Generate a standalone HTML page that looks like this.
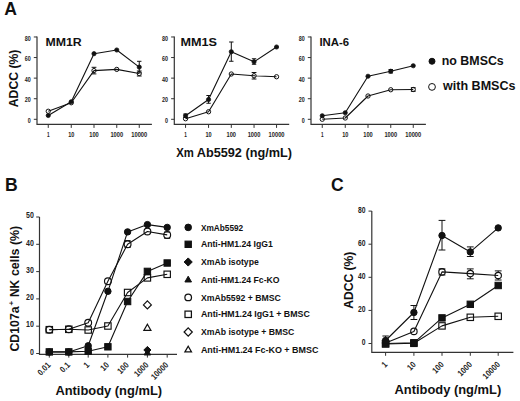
<!DOCTYPE html>
<html><head><meta charset="utf-8"><title>Figure</title>
<style>
html,body{margin:0;padding:0;background:#fff;}
body{width:520px;height:401px;overflow:hidden;}
svg{display:block;font-family:"Liberation Sans",sans-serif;}
</style></head><body>
<svg width="520" height="401" viewBox="0 0 520 401">
<rect width="520" height="401" fill="#fff"/>
<text x="4.2" y="15" font-size="17.6" font-weight="bold" text-anchor="start" fill="#111">A</text>
<path d="M37,36.6 V124.4 H151.9" fill="none" stroke="#333" stroke-width="1.2"/>
<line x1="33.8" y1="119.3" x2="37" y2="119.3" stroke="#333" stroke-width="1"/>
<text x="30.7" y="123" font-size="7.7" font-weight="bold" text-anchor="end" fill="#222" textLength="3" lengthAdjust="spacingAndGlyphs">0</text>
<line x1="33.8" y1="98.72" x2="37" y2="98.72" stroke="#333" stroke-width="1"/>
<text x="30.7" y="102.42" font-size="7.7" font-weight="bold" text-anchor="end" fill="#222" textLength="6" lengthAdjust="spacingAndGlyphs">20</text>
<line x1="33.8" y1="78.14" x2="37" y2="78.14" stroke="#333" stroke-width="1"/>
<text x="30.7" y="81.84" font-size="7.7" font-weight="bold" text-anchor="end" fill="#222" textLength="6" lengthAdjust="spacingAndGlyphs">40</text>
<line x1="33.8" y1="57.56" x2="37" y2="57.56" stroke="#333" stroke-width="1"/>
<text x="30.7" y="61.26" font-size="7.7" font-weight="bold" text-anchor="end" fill="#222" textLength="6" lengthAdjust="spacingAndGlyphs">60</text>
<line x1="33.8" y1="36.98" x2="37" y2="36.98" stroke="#333" stroke-width="1"/>
<text x="30.7" y="40.68" font-size="7.7" font-weight="bold" text-anchor="end" fill="#222" textLength="6" lengthAdjust="spacingAndGlyphs">80</text>
<line x1="48.25" y1="124.4" x2="48.25" y2="127.9" stroke="#333" stroke-width="1"/>
<text x="48.25" y="137.3" font-size="7.4" font-weight="bold" text-anchor="middle" fill="#222" textLength="2.6" lengthAdjust="spacingAndGlyphs">1</text>
<line x1="71.25" y1="124.4" x2="71.25" y2="127.9" stroke="#333" stroke-width="1"/>
<text x="71.25" y="137.3" font-size="7.4" font-weight="bold" text-anchor="middle" fill="#222" textLength="6.2" lengthAdjust="spacingAndGlyphs">10</text>
<line x1="94" y1="124.4" x2="94" y2="127.9" stroke="#333" stroke-width="1"/>
<text x="94" y="137.3" font-size="7.4" font-weight="bold" text-anchor="middle" fill="#222" textLength="9.5" lengthAdjust="spacingAndGlyphs">100</text>
<line x1="116.75" y1="124.4" x2="116.75" y2="127.9" stroke="#333" stroke-width="1"/>
<text x="116.75" y="137.3" font-size="7.4" font-weight="bold" text-anchor="middle" fill="#222" textLength="12.7" lengthAdjust="spacingAndGlyphs">1000</text>
<line x1="139.25" y1="124.4" x2="139.25" y2="127.9" stroke="#333" stroke-width="1"/>
<text x="139.25" y="137.3" font-size="7.4" font-weight="bold" text-anchor="middle" fill="#222" textLength="16" lengthAdjust="spacingAndGlyphs">10000</text>
<text x="45.4" y="45.6" font-size="11.6" font-weight="bold" text-anchor="start" fill="#111" textLength="36.3" lengthAdjust="spacingAndGlyphs">MM1R</text>
<polyline points="48.25,111.25 71.25,102.75 94,70.6 116.75,69.4 139.25,73.5" fill="none" stroke="#111" stroke-width="1.1" stroke-linejoin="round"/>
<polyline points="48.25,115.5 71.25,101.75 94,53.7 116.75,50 139.25,67.1" fill="none" stroke="#111" stroke-width="1.1" stroke-linejoin="round"/>
<line x1="139.25" y1="61.3" x2="139.25" y2="72.9" stroke="#111" stroke-width="1"/>
<line x1="137.05" y1="61.3" x2="141.45" y2="61.3" stroke="#111" stroke-width="1"/>
<line x1="137.05" y1="72.9" x2="141.45" y2="72.9" stroke="#111" stroke-width="1"/>
<line x1="94" y1="67.3" x2="94" y2="68.5" stroke="#111" stroke-width="1"/>
<line x1="94" y1="72.7" x2="94" y2="73.9" stroke="#111" stroke-width="1"/>
<line x1="91.6" y1="67.3" x2="96.4" y2="67.3" stroke="#111" stroke-width="1"/>
<line x1="91.6" y1="73.9" x2="96.4" y2="73.9" stroke="#111" stroke-width="1"/>
<line x1="139.25" y1="71" x2="139.25" y2="71.4" stroke="#111" stroke-width="1"/>
<line x1="139.25" y1="75.6" x2="139.25" y2="76" stroke="#111" stroke-width="1"/>
<line x1="136.85" y1="71" x2="141.65" y2="71" stroke="#111" stroke-width="1"/>
<line x1="136.85" y1="76" x2="141.65" y2="76" stroke="#111" stroke-width="1"/>
<circle cx="48.25" cy="111.25" r="2.15" fill="none" stroke="#111" stroke-width="1"/>
<circle cx="71.25" cy="102.75" r="2.15" fill="none" stroke="#111" stroke-width="1"/>
<circle cx="94" cy="70.6" r="2.15" fill="none" stroke="#111" stroke-width="1"/>
<circle cx="116.75" cy="69.4" r="2.15" fill="none" stroke="#111" stroke-width="1"/>
<circle cx="139.25" cy="73.5" r="2.15" fill="none" stroke="#111" stroke-width="1"/>
<circle cx="48.25" cy="115.5" r="2.1" fill="#111" stroke="#111" stroke-width="0.8"/>
<circle cx="71.25" cy="101.75" r="2.1" fill="#111" stroke="#111" stroke-width="0.8"/>
<circle cx="94" cy="53.7" r="2.1" fill="#111" stroke="#111" stroke-width="0.8"/>
<circle cx="116.75" cy="50" r="2.1" fill="#111" stroke="#111" stroke-width="0.8"/>
<circle cx="139.25" cy="67.1" r="2.1" fill="#111" stroke="#111" stroke-width="0.8"/>
<path d="M174.3,36.6 V124.4 H289.2" fill="none" stroke="#333" stroke-width="1.2"/>
<line x1="171.1" y1="119.3" x2="174.3" y2="119.3" stroke="#333" stroke-width="1"/>
<text x="168" y="123" font-size="7.7" font-weight="bold" text-anchor="end" fill="#222" textLength="3" lengthAdjust="spacingAndGlyphs">0</text>
<line x1="171.1" y1="98.72" x2="174.3" y2="98.72" stroke="#333" stroke-width="1"/>
<text x="168" y="102.42" font-size="7.7" font-weight="bold" text-anchor="end" fill="#222" textLength="6" lengthAdjust="spacingAndGlyphs">20</text>
<line x1="171.1" y1="78.14" x2="174.3" y2="78.14" stroke="#333" stroke-width="1"/>
<text x="168" y="81.84" font-size="7.7" font-weight="bold" text-anchor="end" fill="#222" textLength="6" lengthAdjust="spacingAndGlyphs">40</text>
<line x1="171.1" y1="57.56" x2="174.3" y2="57.56" stroke="#333" stroke-width="1"/>
<text x="168" y="61.26" font-size="7.7" font-weight="bold" text-anchor="end" fill="#222" textLength="6" lengthAdjust="spacingAndGlyphs">60</text>
<line x1="171.1" y1="36.98" x2="174.3" y2="36.98" stroke="#333" stroke-width="1"/>
<text x="168" y="40.68" font-size="7.7" font-weight="bold" text-anchor="end" fill="#222" textLength="6" lengthAdjust="spacingAndGlyphs">80</text>
<line x1="185.55" y1="124.4" x2="185.55" y2="127.9" stroke="#333" stroke-width="1"/>
<text x="185.55" y="137.3" font-size="7.4" font-weight="bold" text-anchor="middle" fill="#222" textLength="2.6" lengthAdjust="spacingAndGlyphs">1</text>
<line x1="208.55" y1="124.4" x2="208.55" y2="127.9" stroke="#333" stroke-width="1"/>
<text x="208.55" y="137.3" font-size="7.4" font-weight="bold" text-anchor="middle" fill="#222" textLength="6.2" lengthAdjust="spacingAndGlyphs">10</text>
<line x1="231.3" y1="124.4" x2="231.3" y2="127.9" stroke="#333" stroke-width="1"/>
<text x="231.3" y="137.3" font-size="7.4" font-weight="bold" text-anchor="middle" fill="#222" textLength="9.5" lengthAdjust="spacingAndGlyphs">100</text>
<line x1="254.05" y1="124.4" x2="254.05" y2="127.9" stroke="#333" stroke-width="1"/>
<text x="254.05" y="137.3" font-size="7.4" font-weight="bold" text-anchor="middle" fill="#222" textLength="12.7" lengthAdjust="spacingAndGlyphs">1000</text>
<line x1="276.55" y1="124.4" x2="276.55" y2="127.9" stroke="#333" stroke-width="1"/>
<text x="276.55" y="137.3" font-size="7.4" font-weight="bold" text-anchor="middle" fill="#222" textLength="16" lengthAdjust="spacingAndGlyphs">10000</text>
<text x="180.5" y="45.6" font-size="11.6" font-weight="bold" text-anchor="start" fill="#111" textLength="36.5" lengthAdjust="spacingAndGlyphs">MM1S</text>
<polyline points="185.55,118.75 208.55,111.75 231.3,74 254.05,75.75 276.55,76.75" fill="none" stroke="#111" stroke-width="1.1" stroke-linejoin="round"/>
<polyline points="185.55,115.75 208.55,99.5 231.3,51.75 254.05,61.75 276.55,47" fill="none" stroke="#111" stroke-width="1.1" stroke-linejoin="round"/>
<line x1="185.55" y1="114" x2="185.55" y2="117.5" stroke="#111" stroke-width="1"/>
<line x1="183.35" y1="114" x2="187.75" y2="114" stroke="#111" stroke-width="1"/>
<line x1="183.35" y1="117.5" x2="187.75" y2="117.5" stroke="#111" stroke-width="1"/>
<line x1="208.55" y1="95.5" x2="208.55" y2="103.25" stroke="#111" stroke-width="1"/>
<line x1="206.35" y1="95.5" x2="210.75" y2="95.5" stroke="#111" stroke-width="1"/>
<line x1="206.35" y1="103.25" x2="210.75" y2="103.25" stroke="#111" stroke-width="1"/>
<line x1="231.3" y1="42" x2="231.3" y2="61.25" stroke="#111" stroke-width="1"/>
<line x1="229.1" y1="42" x2="233.5" y2="42" stroke="#111" stroke-width="1"/>
<line x1="229.1" y1="61.25" x2="233.5" y2="61.25" stroke="#111" stroke-width="1"/>
<line x1="254.05" y1="58.75" x2="254.05" y2="64.25" stroke="#111" stroke-width="1"/>
<line x1="251.85" y1="58.75" x2="256.25" y2="58.75" stroke="#111" stroke-width="1"/>
<line x1="251.85" y1="64.25" x2="256.25" y2="64.25" stroke="#111" stroke-width="1"/>
<line x1="254.05" y1="72.5" x2="254.05" y2="73.65" stroke="#111" stroke-width="1"/>
<line x1="254.05" y1="77.85" x2="254.05" y2="79" stroke="#111" stroke-width="1"/>
<line x1="251.65" y1="72.5" x2="256.45" y2="72.5" stroke="#111" stroke-width="1"/>
<line x1="251.65" y1="79" x2="256.45" y2="79" stroke="#111" stroke-width="1"/>
<circle cx="185.55" cy="118.75" r="2.15" fill="none" stroke="#111" stroke-width="1"/>
<circle cx="208.55" cy="111.75" r="2.15" fill="none" stroke="#111" stroke-width="1"/>
<circle cx="231.3" cy="74" r="2.15" fill="none" stroke="#111" stroke-width="1"/>
<circle cx="254.05" cy="75.75" r="2.15" fill="none" stroke="#111" stroke-width="1"/>
<circle cx="276.55" cy="76.75" r="2.15" fill="none" stroke="#111" stroke-width="1"/>
<circle cx="185.55" cy="115.75" r="2.1" fill="#111" stroke="#111" stroke-width="0.8"/>
<circle cx="208.55" cy="99.5" r="2.1" fill="#111" stroke="#111" stroke-width="0.8"/>
<circle cx="231.3" cy="51.75" r="2.1" fill="#111" stroke="#111" stroke-width="0.8"/>
<circle cx="254.05" cy="61.75" r="2.1" fill="#111" stroke="#111" stroke-width="0.8"/>
<circle cx="276.55" cy="47" r="2.1" fill="#111" stroke="#111" stroke-width="0.8"/>
<path d="M311,36.6 V124.4 H425.9" fill="none" stroke="#333" stroke-width="1.2"/>
<line x1="307.8" y1="119.3" x2="311" y2="119.3" stroke="#333" stroke-width="1"/>
<text x="304.7" y="123" font-size="7.7" font-weight="bold" text-anchor="end" fill="#222" textLength="3" lengthAdjust="spacingAndGlyphs">0</text>
<line x1="307.8" y1="98.72" x2="311" y2="98.72" stroke="#333" stroke-width="1"/>
<text x="304.7" y="102.42" font-size="7.7" font-weight="bold" text-anchor="end" fill="#222" textLength="6" lengthAdjust="spacingAndGlyphs">20</text>
<line x1="307.8" y1="78.14" x2="311" y2="78.14" stroke="#333" stroke-width="1"/>
<text x="304.7" y="81.84" font-size="7.7" font-weight="bold" text-anchor="end" fill="#222" textLength="6" lengthAdjust="spacingAndGlyphs">40</text>
<line x1="307.8" y1="57.56" x2="311" y2="57.56" stroke="#333" stroke-width="1"/>
<text x="304.7" y="61.26" font-size="7.7" font-weight="bold" text-anchor="end" fill="#222" textLength="6" lengthAdjust="spacingAndGlyphs">60</text>
<line x1="307.8" y1="36.98" x2="311" y2="36.98" stroke="#333" stroke-width="1"/>
<text x="304.7" y="40.68" font-size="7.7" font-weight="bold" text-anchor="end" fill="#222" textLength="6" lengthAdjust="spacingAndGlyphs">80</text>
<line x1="322.25" y1="124.4" x2="322.25" y2="127.9" stroke="#333" stroke-width="1"/>
<text x="322.25" y="137.3" font-size="7.4" font-weight="bold" text-anchor="middle" fill="#222" textLength="2.6" lengthAdjust="spacingAndGlyphs">1</text>
<line x1="345.25" y1="124.4" x2="345.25" y2="127.9" stroke="#333" stroke-width="1"/>
<text x="345.25" y="137.3" font-size="7.4" font-weight="bold" text-anchor="middle" fill="#222" textLength="6.2" lengthAdjust="spacingAndGlyphs">10</text>
<line x1="368" y1="124.4" x2="368" y2="127.9" stroke="#333" stroke-width="1"/>
<text x="368" y="137.3" font-size="7.4" font-weight="bold" text-anchor="middle" fill="#222" textLength="9.5" lengthAdjust="spacingAndGlyphs">100</text>
<line x1="390.75" y1="124.4" x2="390.75" y2="127.9" stroke="#333" stroke-width="1"/>
<text x="390.75" y="137.3" font-size="7.4" font-weight="bold" text-anchor="middle" fill="#222" textLength="12.7" lengthAdjust="spacingAndGlyphs">1000</text>
<line x1="413.25" y1="124.4" x2="413.25" y2="127.9" stroke="#333" stroke-width="1"/>
<text x="413.25" y="137.3" font-size="7.4" font-weight="bold" text-anchor="middle" fill="#222" textLength="16" lengthAdjust="spacingAndGlyphs">10000</text>
<text x="319.4" y="45.6" font-size="11.6" font-weight="bold" text-anchor="start" fill="#111" textLength="29.8" lengthAdjust="spacingAndGlyphs">INA-6</text>
<polyline points="322.25,119.25 345.25,118 368,96 390.75,89.75 413.25,89.5" fill="none" stroke="#111" stroke-width="1.1" stroke-linejoin="round"/>
<polyline points="322.25,115.75 345.25,112.75 368,76.25 390.75,71.25 413.25,65.75" fill="none" stroke="#111" stroke-width="1.1" stroke-linejoin="round"/>
<line x1="390.75" y1="69.5" x2="390.75" y2="73" stroke="#111" stroke-width="1"/>
<line x1="388.55" y1="69.5" x2="392.95" y2="69.5" stroke="#111" stroke-width="1"/>
<line x1="388.55" y1="73" x2="392.95" y2="73" stroke="#111" stroke-width="1"/>
<line x1="410.85" y1="87.7" x2="415.65" y2="87.7" stroke="#111" stroke-width="1"/>
<line x1="410.85" y1="91.3" x2="415.65" y2="91.3" stroke="#111" stroke-width="1"/>
<circle cx="322.25" cy="119.25" r="2.15" fill="none" stroke="#111" stroke-width="1"/>
<circle cx="345.25" cy="118" r="2.15" fill="none" stroke="#111" stroke-width="1"/>
<circle cx="368" cy="96" r="2.15" fill="none" stroke="#111" stroke-width="1"/>
<circle cx="390.75" cy="89.75" r="2.15" fill="none" stroke="#111" stroke-width="1"/>
<circle cx="413.25" cy="89.5" r="2.15" fill="none" stroke="#111" stroke-width="1"/>
<circle cx="322.25" cy="115.75" r="2.1" fill="#111" stroke="#111" stroke-width="0.8"/>
<circle cx="345.25" cy="112.75" r="2.1" fill="#111" stroke="#111" stroke-width="0.8"/>
<circle cx="368" cy="76.25" r="2.1" fill="#111" stroke="#111" stroke-width="0.8"/>
<circle cx="390.75" cy="71.25" r="2.1" fill="#111" stroke="#111" stroke-width="0.8"/>
<circle cx="413.25" cy="65.75" r="2.1" fill="#111" stroke="#111" stroke-width="0.8"/>
<text x="17.9" y="107.2" font-size="12.3" font-weight="bold" text-anchor="start" fill="#111" textLength="57.6" lengthAdjust="spacingAndGlyphs" transform="rotate(-90 17.9 107.2)">ADCC (%)</text>
<text x="176.25" y="156.8" font-size="12.6" font-weight="bold" text-anchor="start" fill="#111" textLength="17.6" lengthAdjust="spacingAndGlyphs">Xm</text>
<text x="196.75" y="156.8" font-size="12.6" font-weight="bold" text-anchor="start" fill="#111" textLength="95.2" lengthAdjust="spacingAndGlyphs">Ab5592 (ng/mL)</text>
<circle cx="432" cy="61.25" r="3" fill="#111" stroke="#111" stroke-width="1"/>
<text x="441.75" y="64.6" font-size="12.2" font-weight="bold" text-anchor="start" fill="#111" textLength="62" lengthAdjust="spacingAndGlyphs">no BMSCs</text>
<circle cx="432" cy="86.9" r="3.4" fill="none" stroke="#111" stroke-width="1"/>
<text x="443" y="90.2" font-size="12.2" font-weight="bold" text-anchor="start" fill="#111" textLength="72.5" lengthAdjust="spacingAndGlyphs">with BMSCs</text>
<text x="5" y="191" font-size="17.6" font-weight="bold" text-anchor="start" fill="#111">B</text>
<path d="M39.5,217 V354.4 H177" fill="none" stroke="#333" stroke-width="1.2"/>
<line x1="36.2" y1="353.5" x2="39.5" y2="353.5" stroke="#333" stroke-width="1"/>
<text x="33.8" y="354.7" font-size="9" font-weight="bold" text-anchor="end" fill="#222" textLength="3.9" lengthAdjust="spacingAndGlyphs">0</text>
<line x1="36.2" y1="326.2" x2="39.5" y2="326.2" stroke="#333" stroke-width="1"/>
<text x="33.8" y="327.4" font-size="9" font-weight="bold" text-anchor="end" fill="#222" textLength="7.8" lengthAdjust="spacingAndGlyphs">10</text>
<line x1="36.2" y1="298.9" x2="39.5" y2="298.9" stroke="#333" stroke-width="1"/>
<text x="33.8" y="300.1" font-size="9" font-weight="bold" text-anchor="end" fill="#222" textLength="7.8" lengthAdjust="spacingAndGlyphs">20</text>
<line x1="36.2" y1="271.6" x2="39.5" y2="271.6" stroke="#333" stroke-width="1"/>
<text x="33.8" y="272.8" font-size="9" font-weight="bold" text-anchor="end" fill="#222" textLength="7.8" lengthAdjust="spacingAndGlyphs">30</text>
<line x1="36.2" y1="244.3" x2="39.5" y2="244.3" stroke="#333" stroke-width="1"/>
<text x="33.8" y="245.5" font-size="9" font-weight="bold" text-anchor="end" fill="#222" textLength="7.8" lengthAdjust="spacingAndGlyphs">40</text>
<line x1="36.2" y1="217" x2="39.5" y2="217" stroke="#333" stroke-width="1"/>
<text x="33.8" y="218.2" font-size="9" font-weight="bold" text-anchor="end" fill="#222" textLength="7.8" lengthAdjust="spacingAndGlyphs">50</text>
<line x1="49.3" y1="354.4" x2="49.3" y2="357.6" stroke="#333" stroke-width="1"/>
<text x="51.1" y="365.7" font-size="8.6" font-weight="bold" text-anchor="end" fill="#222" textLength="14.4" lengthAdjust="spacingAndGlyphs" transform="rotate(-45 51.1 365.7)">0.01</text>
<line x1="68.8" y1="354.4" x2="68.8" y2="357.6" stroke="#333" stroke-width="1"/>
<text x="70.6" y="365.7" font-size="8.6" font-weight="bold" text-anchor="end" fill="#222" textLength="10.29" lengthAdjust="spacingAndGlyphs" transform="rotate(-45 70.6 365.7)">0.1</text>
<line x1="88.2" y1="354.4" x2="88.2" y2="357.6" stroke="#333" stroke-width="1"/>
<text x="90" y="365.7" font-size="8.6" font-weight="bold" text-anchor="end" fill="#222" textLength="4.11" lengthAdjust="spacingAndGlyphs" transform="rotate(-45 90 365.7)">1</text>
<line x1="107.9" y1="354.4" x2="107.9" y2="357.6" stroke="#333" stroke-width="1"/>
<text x="109.7" y="365.7" font-size="8.6" font-weight="bold" text-anchor="end" fill="#222" textLength="8.23" lengthAdjust="spacingAndGlyphs" transform="rotate(-45 109.7 365.7)">10</text>
<line x1="127.6" y1="354.4" x2="127.6" y2="357.6" stroke="#333" stroke-width="1"/>
<text x="129.4" y="365.7" font-size="8.6" font-weight="bold" text-anchor="end" fill="#222" textLength="12.34" lengthAdjust="spacingAndGlyphs" transform="rotate(-45 129.4 365.7)">100</text>
<line x1="147.4" y1="354.4" x2="147.4" y2="357.6" stroke="#333" stroke-width="1"/>
<text x="149.2" y="365.7" font-size="8.6" font-weight="bold" text-anchor="end" fill="#222" textLength="16.46" lengthAdjust="spacingAndGlyphs" transform="rotate(-45 149.2 365.7)">1000</text>
<line x1="167.2" y1="354.4" x2="167.2" y2="357.6" stroke="#333" stroke-width="1"/>
<text x="169" y="365.7" font-size="8.6" font-weight="bold" text-anchor="end" fill="#222" textLength="20.57" lengthAdjust="spacingAndGlyphs" transform="rotate(-45 169 365.7)">10000</text>
<g transform="translate(19.0,0) rotate(-90)" font-weight="bold" fill="#111">
<text x="-351.6" y="0" font-size="12" textLength="45.2" lengthAdjust="spacingAndGlyphs">CD107a</text>
<text x="-305.4" y="-5.5" font-size="8">+</text>
<text x="-297.1" y="0" font-size="12">NK</text>
<text x="-276.1" y="0" font-size="12" textLength="50.3" lengthAdjust="spacingAndGlyphs">cells (%)</text>
</g>
<text x="55.4" y="394.7" font-size="12.8" font-weight="bold" text-anchor="start" fill="#111" textLength="106.7" lengthAdjust="spacingAndGlyphs">Antibody (ng/mL)</text>
<polyline points="49.3,329.7 68.8,329.3 88.2,330 107.9,326 127.6,292.5 147.4,277.9 167.2,274.3" fill="none" stroke="#111" stroke-width="1.1" stroke-linejoin="round"/>
<polyline points="49.3,329.7 68.8,329.3 88.2,322.7 107.9,281.3 127.6,244.3 147.4,231.5 167.2,234.9" fill="none" stroke="#111" stroke-width="1.1" stroke-linejoin="round"/>
<polyline points="49.3,351.9 68.8,351.9 88.2,351.2 107.9,346.8 127.6,301.5 147.4,271.4 167.2,263" fill="none" stroke="#111" stroke-width="1.1" stroke-linejoin="round"/>
<polyline points="49.3,352 68.8,352 88.2,345.8 107.9,291.3 127.6,231.9 147.4,224.6 167.2,227.4" fill="none" stroke="#111" stroke-width="1.1" stroke-linejoin="round"/>
<line x1="164.2" y1="232" x2="170.2" y2="232" stroke="#111" stroke-width="1"/>
<line x1="164.2" y1="238.3" x2="170.2" y2="238.3" stroke="#111" stroke-width="1"/>
<line x1="127.6" y1="240.6" x2="127.6" y2="240.9" stroke="#111" stroke-width="1"/>
<line x1="124.6" y1="240.6" x2="130.6" y2="240.6" stroke="#111" stroke-width="1"/>
<line x1="124.6" y1="247.5" x2="130.6" y2="247.5" stroke="#111" stroke-width="1"/>
<rect x="46.1" y="326.5" width="6.4" height="6.4" fill="none" stroke="#111" stroke-width="1.15"/>
<rect x="65.6" y="326.1" width="6.4" height="6.4" fill="none" stroke="#111" stroke-width="1.15"/>
<rect x="85" y="326.8" width="6.4" height="6.4" fill="none" stroke="#111" stroke-width="1.15"/>
<rect x="104.7" y="322.8" width="6.4" height="6.4" fill="none" stroke="#111" stroke-width="1.15"/>
<rect x="124.4" y="289.3" width="6.4" height="6.4" fill="none" stroke="#111" stroke-width="1.15"/>
<rect x="144.2" y="274.7" width="6.4" height="6.4" fill="none" stroke="#111" stroke-width="1.15"/>
<rect x="164" y="271.1" width="6.4" height="6.4" fill="none" stroke="#111" stroke-width="1.15"/>
<circle cx="49.3" cy="329.7" r="3.4" fill="none" stroke="#111" stroke-width="1.15"/>
<circle cx="68.8" cy="329.3" r="3.4" fill="none" stroke="#111" stroke-width="1.15"/>
<circle cx="88.2" cy="322.7" r="3.4" fill="none" stroke="#111" stroke-width="1.15"/>
<circle cx="107.9" cy="281.3" r="3.4" fill="none" stroke="#111" stroke-width="1.15"/>
<circle cx="127.6" cy="244.3" r="3.4" fill="none" stroke="#111" stroke-width="1.15"/>
<circle cx="147.4" cy="231.5" r="3.4" fill="none" stroke="#111" stroke-width="1.15"/>
<circle cx="167.2" cy="234.9" r="3.4" fill="none" stroke="#111" stroke-width="1.15"/>
<rect x="46.1" y="348.7" width="6.4" height="6.4" fill="#111" stroke="#111" stroke-width="1"/>
<rect x="65.6" y="348.7" width="6.4" height="6.4" fill="#111" stroke="#111" stroke-width="1"/>
<rect x="85" y="348" width="6.4" height="6.4" fill="#111" stroke="#111" stroke-width="1"/>
<rect x="104.7" y="343.6" width="6.4" height="6.4" fill="#111" stroke="#111" stroke-width="1"/>
<rect x="124.4" y="298.3" width="6.4" height="6.4" fill="#111" stroke="#111" stroke-width="1"/>
<rect x="144.2" y="268.2" width="6.4" height="6.4" fill="#111" stroke="#111" stroke-width="1"/>
<rect x="164" y="259.8" width="6.4" height="6.4" fill="#111" stroke="#111" stroke-width="1"/>
<circle cx="49.3" cy="352" r="3.2" fill="#111" stroke="#111" stroke-width="1"/>
<circle cx="68.8" cy="352" r="3.2" fill="#111" stroke="#111" stroke-width="1"/>
<circle cx="88.2" cy="345.8" r="3.2" fill="#111" stroke="#111" stroke-width="1"/>
<circle cx="107.9" cy="291.3" r="3.2" fill="#111" stroke="#111" stroke-width="1"/>
<circle cx="127.6" cy="231.9" r="3.2" fill="#111" stroke="#111" stroke-width="1"/>
<circle cx="147.4" cy="224.6" r="3.2" fill="#111" stroke="#111" stroke-width="1"/>
<circle cx="167.2" cy="227.4" r="3.2" fill="#111" stroke="#111" stroke-width="1"/>
<polygon points="147.4,349.2 150.7,354.98 144.1,354.98" fill="#111" stroke="#111" stroke-width="1"/>
<polygon points="147.4,346.4 151,350 147.4,353.6 143.8,350" fill="#111" stroke="#111" stroke-width="1"/>
<polygon points="147.4,300.94 151.36,304.9 147.4,308.86 143.44,304.9" fill="none" stroke="#111" stroke-width="1.2"/>
<polygon points="147.4,324.28 150.92,330.44 143.88,330.44" fill="none" stroke="#111" stroke-width="1.2"/>
<circle cx="188.2" cy="227.4" r="3.3" fill="#111" stroke="#111" stroke-width="1"/>
<text x="200.9" y="230.5" font-size="8.7" font-weight="bold" text-anchor="start" fill="#111" textLength="42.3" lengthAdjust="spacingAndGlyphs">XmAb5592</text>
<rect x="185" y="241.1" width="6.4" height="6.4" fill="#111" stroke="#111" stroke-width="1"/>
<text x="200.9" y="247.4" font-size="8.7" font-weight="bold" text-anchor="start" fill="#111">Anti-HM1.24 IgG1</text>
<polygon points="188.2,257.92 192.28,262 188.2,266.08 184.12,262" fill="#111" stroke="#111" stroke-width="1"/>
<text x="200.9" y="265.1" font-size="8.7" font-weight="bold" text-anchor="start" fill="#111">XmAb isotype</text>
<polygon points="188.2,276.2 191.5,281.98 184.9,281.98" fill="#111" stroke="#111" stroke-width="1"/>
<text x="200.9" y="282.6" font-size="8.7" font-weight="bold" text-anchor="start" fill="#111">Anti-HM1.24 Fc-KO</text>
<circle cx="188.2" cy="297.4" r="3.3" fill="none" stroke="#111" stroke-width="1.25"/>
<text x="200.9" y="300.5" font-size="8.7" font-weight="bold" text-anchor="start" fill="#111" textLength="80" lengthAdjust="spacingAndGlyphs">XmAb5592 + BMSC</text>
<rect x="185" y="311.1" width="6.4" height="6.4" fill="none" stroke="#111" stroke-width="1.25"/>
<text x="200.9" y="317.4" font-size="8.7" font-weight="bold" text-anchor="start" fill="#111" textLength="108.9" lengthAdjust="spacingAndGlyphs">Anti-HM1.24 IgG1 + BMSC</text>
<polygon points="188.2,327.92 192.28,332 188.2,336.08 184.12,332" fill="none" stroke="#111" stroke-width="1.25"/>
<text x="200.9" y="335.1" font-size="8.7" font-weight="bold" text-anchor="start" fill="#111" textLength="93.5" lengthAdjust="spacingAndGlyphs">XmAb isotype + BMSC</text>
<polygon points="188.2,346.2 191.5,351.98 184.9,351.98" fill="none" stroke="#111" stroke-width="1.25"/>
<text x="200.9" y="352.6" font-size="8.7" font-weight="bold" text-anchor="start" fill="#111" textLength="117.5" lengthAdjust="spacingAndGlyphs">Anti-HM1.24 Fc-KO + BMSC</text>
<text x="331" y="190.5" font-size="17.6" font-weight="bold" text-anchor="start" fill="#111">C</text>
<path d="M371.8,211.1 V352.3 H513.4" fill="none" stroke="#333" stroke-width="1.2"/>
<line x1="368.5" y1="343.5" x2="371.8" y2="343.5" stroke="#333" stroke-width="1"/>
<text x="365.4" y="344.9" font-size="9" font-weight="bold" text-anchor="end" fill="#222" textLength="3.75" lengthAdjust="spacingAndGlyphs">0</text>
<line x1="368.5" y1="310.4" x2="371.8" y2="310.4" stroke="#333" stroke-width="1"/>
<text x="365.4" y="311.8" font-size="9" font-weight="bold" text-anchor="end" fill="#222" textLength="7.5" lengthAdjust="spacingAndGlyphs">20</text>
<line x1="368.5" y1="277.3" x2="371.8" y2="277.3" stroke="#333" stroke-width="1"/>
<text x="365.4" y="278.7" font-size="9" font-weight="bold" text-anchor="end" fill="#222" textLength="7.5" lengthAdjust="spacingAndGlyphs">40</text>
<line x1="368.5" y1="244.2" x2="371.8" y2="244.2" stroke="#333" stroke-width="1"/>
<text x="365.4" y="245.6" font-size="9" font-weight="bold" text-anchor="end" fill="#222" textLength="7.5" lengthAdjust="spacingAndGlyphs">60</text>
<line x1="368.5" y1="211.1" x2="371.8" y2="211.1" stroke="#333" stroke-width="1"/>
<text x="365.4" y="212.5" font-size="9" font-weight="bold" text-anchor="end" fill="#222" textLength="7.5" lengthAdjust="spacingAndGlyphs">80</text>
<line x1="385.6" y1="352.3" x2="385.6" y2="355.8" stroke="#333" stroke-width="1"/>
<text x="388" y="365.2" font-size="8.6" font-weight="bold" text-anchor="end" fill="#222" textLength="4.11" lengthAdjust="spacingAndGlyphs" transform="rotate(-45 388 365.2)">1</text>
<line x1="413.9" y1="352.3" x2="413.9" y2="355.8" stroke="#333" stroke-width="1"/>
<text x="416.3" y="365.2" font-size="8.6" font-weight="bold" text-anchor="end" fill="#222" textLength="8.23" lengthAdjust="spacingAndGlyphs" transform="rotate(-45 416.3 365.2)">10</text>
<line x1="442" y1="352.3" x2="442" y2="355.8" stroke="#333" stroke-width="1"/>
<text x="444.4" y="365.2" font-size="8.6" font-weight="bold" text-anchor="end" fill="#222" textLength="12.34" lengthAdjust="spacingAndGlyphs" transform="rotate(-45 444.4 365.2)">100</text>
<line x1="470.3" y1="352.3" x2="470.3" y2="355.8" stroke="#333" stroke-width="1"/>
<text x="472.7" y="365.2" font-size="8.6" font-weight="bold" text-anchor="end" fill="#222" textLength="16.46" lengthAdjust="spacingAndGlyphs" transform="rotate(-45 472.7 365.2)">1000</text>
<line x1="498.2" y1="352.3" x2="498.2" y2="355.8" stroke="#333" stroke-width="1"/>
<text x="500.6" y="365.2" font-size="8.6" font-weight="bold" text-anchor="end" fill="#222" textLength="20.57" lengthAdjust="spacingAndGlyphs" transform="rotate(-45 500.6 365.2)">10000</text>
<text x="353" y="308.8" font-size="12.2" font-weight="bold" text-anchor="start" fill="#111" textLength="57.2" lengthAdjust="spacingAndGlyphs" transform="rotate(-90 353 308.8)">ADCC (%)</text>
<text x="394.5" y="394" font-size="12.8" font-weight="bold" text-anchor="start" fill="#111" textLength="106.7" lengthAdjust="spacingAndGlyphs">Antibody (ng/mL)</text>
<polyline points="385.6,344 413.9,343.3 442,325.9 470.3,317.3 498.2,316.3" fill="none" stroke="#111" stroke-width="1.1" stroke-linejoin="round"/>
<polyline points="385.6,343.5 413.9,342.8 442,317.9 470.3,304.3 498.2,285.5" fill="none" stroke="#111" stroke-width="1.1" stroke-linejoin="round"/>
<polyline points="385.6,343 413.9,331.4 442,271.9 470.3,273.6 498.2,275.5" fill="none" stroke="#111" stroke-width="1.1" stroke-linejoin="round"/>
<polyline points="385.6,340.5 413.9,312.5 442,235.5 470.3,251.9 498.2,227.9" fill="none" stroke="#111" stroke-width="1.1" stroke-linejoin="round"/>
<line x1="385.6" y1="336" x2="385.6" y2="345" stroke="#111" stroke-width="1"/>
<line x1="382.4" y1="336" x2="388.8" y2="336" stroke="#111" stroke-width="1"/>
<line x1="382.4" y1="345" x2="388.8" y2="345" stroke="#111" stroke-width="1"/>
<line x1="413.9" y1="305.5" x2="413.9" y2="319.5" stroke="#111" stroke-width="1"/>
<line x1="410.5" y1="305.5" x2="417.3" y2="305.5" stroke="#111" stroke-width="1"/>
<line x1="410.5" y1="319.5" x2="417.3" y2="319.5" stroke="#111" stroke-width="1"/>
<line x1="442" y1="220.4" x2="442" y2="250" stroke="#111" stroke-width="1"/>
<line x1="438.6" y1="220.4" x2="445.4" y2="220.4" stroke="#111" stroke-width="1"/>
<line x1="438.6" y1="250" x2="445.4" y2="250" stroke="#111" stroke-width="1"/>
<line x1="470.3" y1="246.9" x2="470.3" y2="256.5" stroke="#111" stroke-width="1"/>
<line x1="466.9" y1="246.9" x2="473.7" y2="246.9" stroke="#111" stroke-width="1"/>
<line x1="466.9" y1="256.5" x2="473.7" y2="256.5" stroke="#111" stroke-width="1"/>
<line x1="438.6" y1="268.9" x2="445.4" y2="268.9" stroke="#111" stroke-width="1"/>
<line x1="438.6" y1="275" x2="445.4" y2="275" stroke="#111" stroke-width="1"/>
<line x1="470.3" y1="268.9" x2="470.3" y2="270.4" stroke="#111" stroke-width="1"/>
<line x1="470.3" y1="276.8" x2="470.3" y2="278.8" stroke="#111" stroke-width="1"/>
<line x1="466.9" y1="268.9" x2="473.7" y2="268.9" stroke="#111" stroke-width="1"/>
<line x1="466.9" y1="278.8" x2="473.7" y2="278.8" stroke="#111" stroke-width="1"/>
<line x1="498.2" y1="270.9" x2="498.2" y2="272.3" stroke="#111" stroke-width="1"/>
<line x1="498.2" y1="278.7" x2="498.2" y2="280" stroke="#111" stroke-width="1"/>
<line x1="494.8" y1="270.9" x2="501.6" y2="270.9" stroke="#111" stroke-width="1"/>
<line x1="494.8" y1="280" x2="501.6" y2="280" stroke="#111" stroke-width="1"/>
<rect x="382.4" y="340.8" width="6.4" height="6.4" fill="none" stroke="#111" stroke-width="1.15"/>
<rect x="410.7" y="340.1" width="6.4" height="6.4" fill="none" stroke="#111" stroke-width="1.15"/>
<rect x="438.8" y="322.7" width="6.4" height="6.4" fill="none" stroke="#111" stroke-width="1.15"/>
<rect x="467.1" y="314.1" width="6.4" height="6.4" fill="none" stroke="#111" stroke-width="1.15"/>
<rect x="495" y="313.1" width="6.4" height="6.4" fill="none" stroke="#111" stroke-width="1.15"/>
<circle cx="385.6" cy="343" r="3.2" fill="none" stroke="#111" stroke-width="1.15"/>
<circle cx="413.9" cy="331.4" r="3.2" fill="none" stroke="#111" stroke-width="1.15"/>
<circle cx="442" cy="271.9" r="3.2" fill="none" stroke="#111" stroke-width="1.15"/>
<circle cx="470.3" cy="273.6" r="3.2" fill="none" stroke="#111" stroke-width="1.15"/>
<circle cx="498.2" cy="275.5" r="3.2" fill="none" stroke="#111" stroke-width="1.15"/>
<rect x="382.4" y="340.3" width="6.4" height="6.4" fill="#111" stroke="#111" stroke-width="1"/>
<rect x="410.7" y="339.6" width="6.4" height="6.4" fill="#111" stroke="#111" stroke-width="1"/>
<rect x="438.8" y="314.7" width="6.4" height="6.4" fill="#111" stroke="#111" stroke-width="1"/>
<rect x="467.1" y="301.1" width="6.4" height="6.4" fill="#111" stroke="#111" stroke-width="1"/>
<rect x="495" y="282.3" width="6.4" height="6.4" fill="#111" stroke="#111" stroke-width="1"/>
<circle cx="385.6" cy="340.5" r="3.2" fill="#111" stroke="#111" stroke-width="1"/>
<circle cx="413.9" cy="312.5" r="3.2" fill="#111" stroke="#111" stroke-width="1"/>
<circle cx="442" cy="235.5" r="3.2" fill="#111" stroke="#111" stroke-width="1"/>
<circle cx="470.3" cy="251.9" r="3.2" fill="#111" stroke="#111" stroke-width="1"/>
<circle cx="498.2" cy="227.9" r="3.2" fill="#111" stroke="#111" stroke-width="1"/>
</svg>
</body></html>
